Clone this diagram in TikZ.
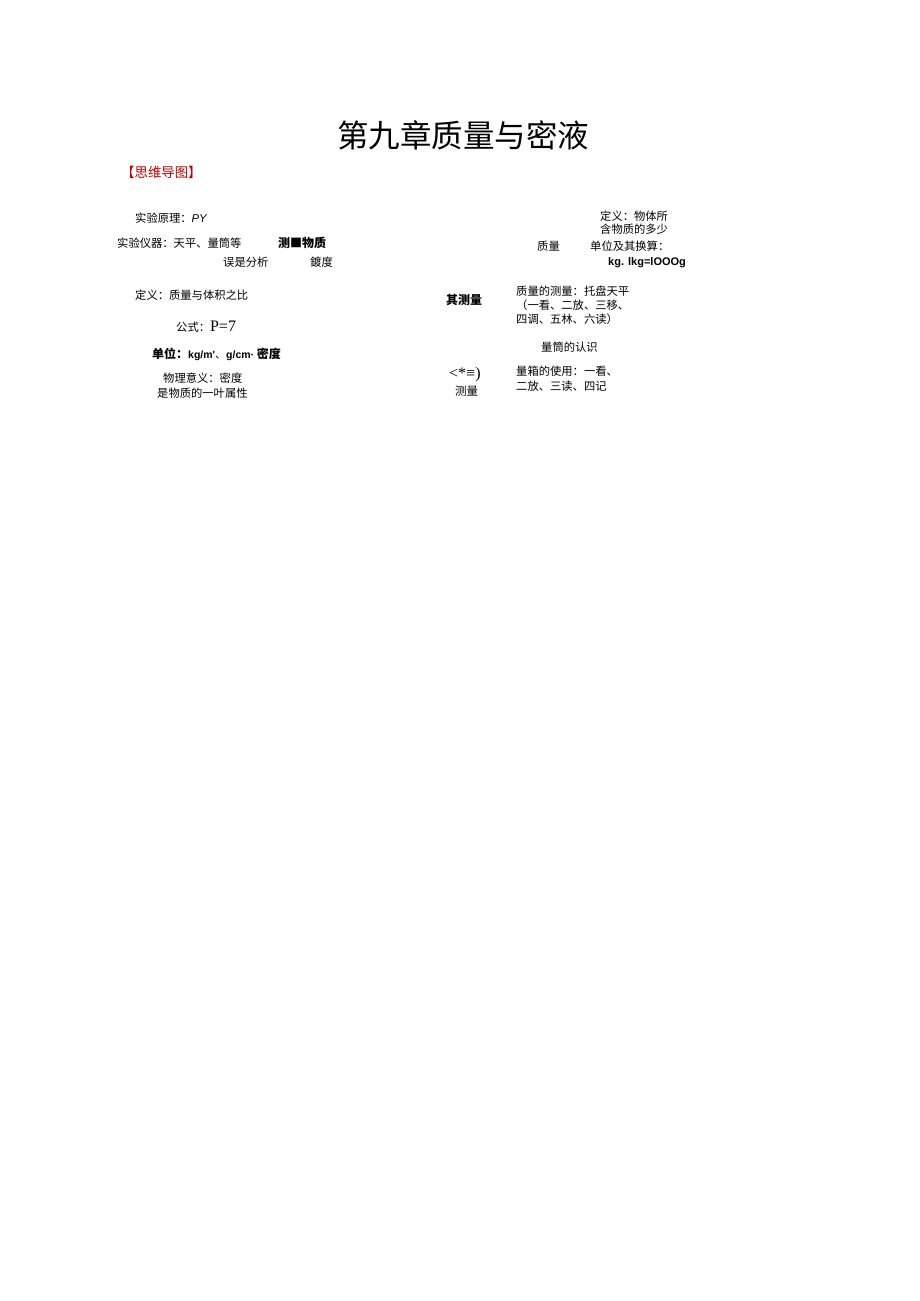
\documentclass[tikz,border=0pt]{standalone}
\usepackage{fontspec}
\setmainfont{Liberation Serif}
\newfontfamily\cjk{Noto Sans CJK SC}
\newfontfamily\lsans{Liberation Sans}
\definecolor{hdred}{HTML}{C00000}
\begin{document}
\begin{tikzpicture}[x=1pt,y=1pt,
  txt/.style={anchor=west,inner sep=0pt,font=\cjk\fontsize{11.3}{13}\selectfont},
  btxt/.style={anchor=west,inner sep=0pt,font=\lsans\bfseries\fontsize{11}{13}\selectfont},
  bcjk/.style={anchor=west,inner sep=0pt,font=\cjk\bfseries\fontsize{12}{14}\selectfont}]
\useasboundingbox[fill=white] (0,0) rectangle (920,-1301);
\node[inner sep=0pt,font=\cjk\fontsize{31.5}{34}\selectfont] (title) at (463,-135) {第九章质量与密液};
\node[anchor=west,inner sep=0pt,text=hdred,font=\cjk\fontsize{13.4}{15}\selectfont] (hd) at (121,-172) {【思维导图】};
% left
\node[txt] (yl) at (135,-218) {实验原理：\textit{\lsans PY}};
\node[txt] (yq) at (117,-243) {实验仪器：天平、量筒等};
\node[bcjk] (cl) at (278,-243) {测■物质};
\node[txt] (wc) at (223,-262) {误是分析};
\node[txt] (dd) at (310,-262) {鍍度};
\node[txt] (dy) at (135,-295) {定义：质量与体积之比};
\node[anchor=west,inner sep=0pt] (gs) at (176,-327) {{\cjk\fontsize{11.3}{13}\selectfont 公式：}{\fontsize{16}{18}\selectfont P=7}};
\node[anchor=west,inner sep=0pt] (dw) at (152,-354) {{\cjk\bfseries\fontsize{12}{14}\selectfont 单位：}{\lsans\bfseries\fontsize{10.5}{12}\selectfont kg/m'}{\cjk\fontsize{11}{13}\selectfont 、}{\lsans\bfseries\fontsize{10.5}{12}\selectfont g/cm·}{\cjk\bfseries\fontsize{12}{14}\selectfont\ 密度}};
\node[txt] (yy1) at (163,-378) {物理意义：密度};
\node[txt] (yy2) at (157,-393) {是物质的一叶属性};
% right
\node[txt] (zdy1) at (600,-216) {定义：物体所};
\node[txt] (zdy2) at (600,-229) {含物质的多少};
\node[txt] (zl) at (537,-246) {质量};
\node[txt] (dwhs) at (590,-246) {单位及其换算：};
\node[btxt] (kg) at (608,-263) {kg. lkg=lOOOg};
\node[bcjk] (qcl) at (446,-300) {其测量};
\node[txt] (zcl1) at (516,-291) {质量的测量：托盘天平};
\node[txt] (zcl2) at (516,-305) {（一看、二放、三移、};
\node[txt] (zcl3) at (516,-319) {四调、五林、六读）};
\node[txt] (lt) at (541,-347) {量筒的认识};
\node[anchor=west,inner sep=0pt,font=\fontsize{16}{18}\selectfont] (sym) at (449,-375) {<*≡)};
\node[anchor=west,inner sep=0pt,font=\cjk\fontsize{11.5}{13}\selectfont] (cl2) at (455,-391) {测量};
\node[txt] (sy1) at (516,-371) {量箱的使用：一看、};
\node[txt] (sy2) at (516,-386) {二放、三读、四记};
\end{tikzpicture}
\end{document}
